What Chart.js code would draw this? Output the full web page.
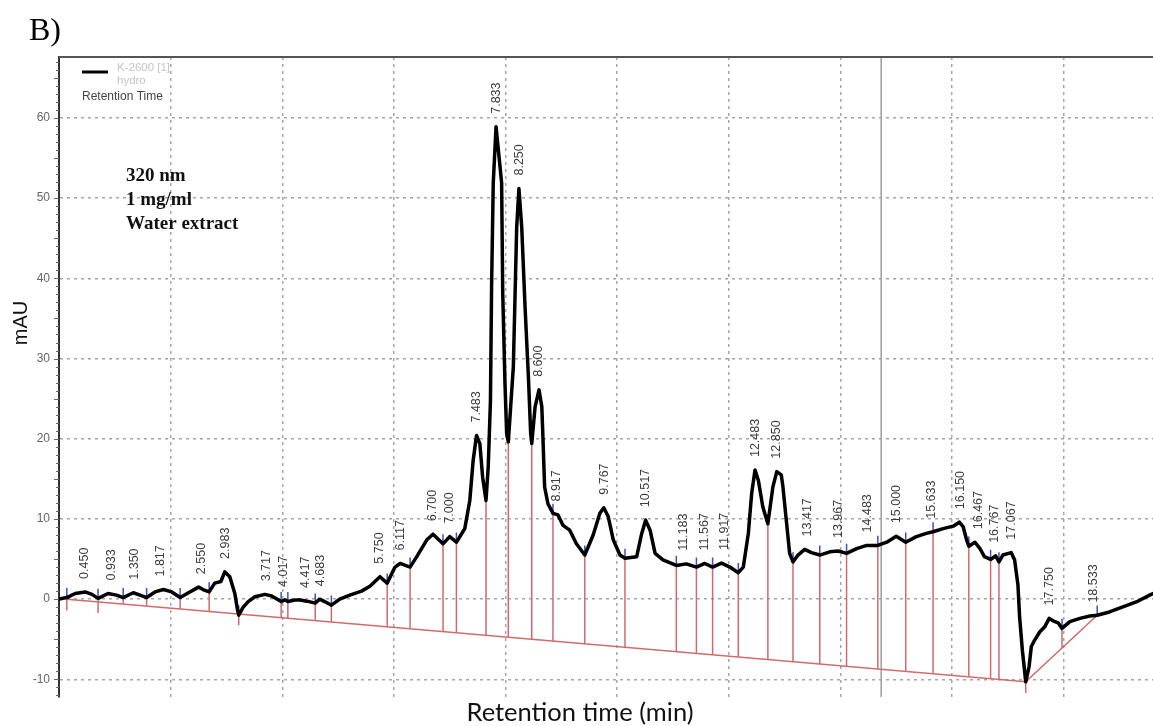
<!DOCTYPE html>
<html>
<head>
<meta charset="utf-8">
<title>HPLC chromatogram – water extract, 320 nm</title>
<script src="https://cdn.jsdelivr.net/npm/chart.js@4.4.1/dist/chart.umd.min.js"></script>
<style>
  html, body { margin: 0; padding: 0; background: #fff; }
  canvas { display: block; }
</style>
</head>
<body>
<canvas id="chart" width="1153" height="726"></canvas>
<script>
// Detector trace: retention time (min) and absorbance (mAU)
const retentionTime = [
  0.00, 0.14, 0.29, 0.47, 0.59, 0.70, 0.88, 1.03, 1.15, 1.33,
  1.45, 1.57, 1.72, 1.87, 2.02, 2.17, 2.32, 2.50, 2.58, 2.69,
  2.79, 2.90, 2.97, 3.06, 3.15, 3.20, 3.22, 3.30, 3.39, 3.51,
  3.69, 3.81, 3.98, 4.05, 4.10, 4.23, 4.32, 4.44, 4.59, 4.67,
  4.76, 4.88, 5.03, 5.21, 5.42, 5.57, 5.75, 5.88, 6.02, 6.11,
  6.29, 6.41, 6.59, 6.70, 6.88, 7.00, 7.12, 7.27, 7.36, 7.42,
  7.48, 7.54, 7.59, 7.65, 7.69, 7.73, 7.75, 7.78, 7.83, 7.93,
  7.95, 7.99, 8.02, 8.05, 8.14, 8.20, 8.24, 8.29, 8.35, 8.41,
  8.45, 8.47, 8.53, 8.60, 8.65, 8.67, 8.70, 8.76, 8.85, 8.94,
  9.03, 9.15, 9.27, 9.42, 9.57, 9.69, 9.76, 9.84, 9.93, 10.05,
  10.14, 10.35, 10.44, 10.51, 10.59, 10.68, 10.82, 11.06, 11.24, 11.42,
  11.57, 11.71, 11.87, 12.02, 12.17, 12.26, 12.35, 12.41, 12.47, 12.53,
  12.61, 12.70, 12.79, 12.86, 12.94, 12.97, 13.03, 13.09, 13.15, 13.24,
  13.36, 13.48, 13.63, 13.81, 13.96, 14.11, 14.29, 14.47, 14.67, 14.83,
  15.00, 15.17, 15.36, 15.54, 15.66, 15.84, 16.02, 16.13, 16.20, 16.26,
  16.30, 16.41, 16.50, 16.58, 16.69, 16.78, 16.84, 16.91, 17.06, 17.12,
  17.18, 17.21, 17.26, 17.32, 17.38, 17.42, 17.48, 17.57, 17.66, 17.74,
  17.81, 17.90, 17.97, 18.11, 18.29, 18.47, 18.60, 18.82, 19.06, 19.30,
  19.54, 19.60
];
const absorbance = [
  0, 0.2, 0.7, 0.9, 0.6, 0.1, 0.7, 0.5, 0.2, 0.8,
  0.5, 0.2, 0.9, 1.2, 0.9, 0.2, 0.8, 1.5, 1.2, 0.9,
  2.0, 2.2, 3.4, 2.8, 0.7, -1.4, -2.0, -1.0, -0.3, 0.3,
  0.6, 0.4, -0.3, -0.1, -0.3, -0.1, -0.1, -0.25, -0.5, 0,
  -0.3, -0.75, 0, 0.5, 1.0, 1.6, 2.8, 2.0, 4.0, 4.45,
  4.0, 5.3, 7.4, 8.1, 6.9, 7.8, 7.1, 8.8, 12.3, 17.3,
  20.4, 19.4, 15.2, 12.3, 16.5, 24.8, 38.9, 51.9, 58.9, 51.9,
  38.1, 26.9, 20.7, 19.6, 29.0, 46.4, 51.2, 46.4, 36.4, 27.7,
  20.7, 19.4, 24.0, 26.1, 24.0, 20.2, 14.0, 11.9, 10.7, 10.5,
  9.2, 8.6, 6.9, 5.5, 8.0, 10.7, 11.4, 10.3, 7.4, 5.5,
  5.1, 5.3, 8.2, 9.85, 8.6, 5.7, 4.9, 4.2, 4.4, 4.0,
  4.45, 4.0, 4.5, 4.0, 3.3, 4.0, 8.2, 13.2, 16.1, 14.8,
  11.5, 9.4, 14.0, 15.9, 15.5, 14.0, 9.85, 5.7, 4.65, 5.5,
  6.2, 5.8, 5.5, 5.9, 6.0, 5.7, 6.3, 6.7, 6.7, 7.1,
  7.85, 7.1, 7.8, 8.2, 8.4, 8.8, 9.1, 9.6, 9.0, 7.4,
  6.6, 7.1, 6.3, 5.3, 4.95, 5.4, 4.65, 5.5, 5.8, 4.9,
  1.8, -2.2, -6.4, -10.3, -8.4, -5.9, -5.1, -4.1, -3.45, -2.4,
  -2.7, -2.95, -3.65, -2.8, -2.4, -2.1, -2.0, -1.6, -0.95, -0.35,
  0.5, 0.7
];

// Integrated peaks (apex retention times, min)
const peakTimes = [
  0.450, 0.933, 1.350, 1.817, 2.550, 2.983, 3.717, 4.017, 4.417, 4.683,
  5.750, 6.117, 6.700, 7.000, 7.483, 7.833, 8.250, 8.600, 8.917, 9.767,
  10.517, 11.183, 11.567, 11.917, 12.483, 12.850, 13.417, 13.967, 14.483, 15.000,
  15.633, 16.150, 16.467, 16.767, 17.067, 17.750, 18.533
];

// Peak start/end markers (min)
const boundaryTimes = [
  0.14, 0.70, 1.15, 1.57, 2.17, 2.69, 3.22, 3.98, 4.10, 4.59,
  4.88, 5.88, 6.29, 6.88, 7.12, 7.65, 8.05, 8.47, 8.85, 9.42,
  10.14, 11.06, 11.42, 11.71, 12.17, 12.70, 13.15, 13.63, 14.11, 14.67,
  15.17, 15.66, 16.30, 16.69, 16.84, 17.32, 17.97, 18.60
];
// Markers where the integration baseline is re-anchored
const baselineResetTimes = [0.14, 0.70, 3.22, 17.32];

// Integration baseline (min, mAU)
const baselineTime = [0.14, 17.32, 18.60];
const baselineValue = [0.0, -10.3, -2.0];

const yTickValues = [-10, 0, 10, 20, 30, 40, 50, 60];
const xGridValues = [2, 4, 6, 8, 10, 12, 14, 16, 18];
const cursorTime = 14.73;

function interp(xs, ys, t) {
  if (t <= xs[0]) return ys[0];
  for (let i = 1; i < xs.length; i++) {
    if (t <= xs[i]) {
      const f = (t - xs[i - 1]) / (xs[i] - xs[i - 1]);
      return ys[i - 1] + f * (ys[i] - ys[i - 1]);
    }
  }
  return ys[ys.length - 1];
}
const traceAt = t => interp(retentionTime, absorbance, t);
const baselineAt = t => interp(baselineTime, baselineValue, t);

const traceData = retentionTime.map((t, i) => ({ x: t, y: absorbance[i] }));

const dropData = [];
boundaryTimes.forEach(t => {
  const bottom = baselineResetTimes.includes(t) ? baselineAt(t) - 1.4 : baselineAt(t);
  dropData.push({ x: t, y: bottom }, { x: t, y: traceAt(t) }, { x: t, y: null });
});

const markerData = [];
boundaryTimes.forEach(t => {
  const v = traceAt(t);
  markerData.push({ x: t, y: v }, { x: t, y: v + 1.2 }, { x: t, y: null });
});

const baselineData = baselineTime.map((t, i) => ({ x: t, y: baselineValue[i] }));

const SANS = '"Liberation Sans", Arial, sans-serif';
const SERIF = '"Liberation Serif", "Times New Roman", serif';

const decor = {
  id: 'decor',
  beforeDraw(chart) {
    const { ctx } = chart;
    ctx.save();
    ctx.fillStyle = '#fff';
    ctx.fillRect(0, 0, chart.width, chart.height);
    ctx.restore();
  },
  beforeDatasetsDraw(chart) {
    const { ctx, chartArea: a, scales: { x } } = chart;
    ctx.save();
    ctx.strokeStyle = '#9c9c9c';
    ctx.lineWidth = 1.5;
    const cx = x.getPixelForValue(cursorTime);
    ctx.beginPath();
    ctx.moveTo(cx, a.top);
    ctx.lineTo(cx, a.bottom);
    ctx.stroke();
    ctx.restore();
  },
  afterDatasetsDraw(chart) {
    const { ctx, scales: { x, y } } = chart;
    ctx.save();
    ctx.font = '12.5px ' + SANS;
    ctx.fillStyle = '#3c3c3c';
    ctx.textAlign = 'left';
    ctx.textBaseline = 'middle';
    peakTimes.forEach(t => {
      let top = traceAt(t);
      retentionTime.forEach((rt, k) => {
        if (Math.abs(rt - t) <= 0.06) top = Math.max(top, absorbance[k]);
      });
      const px = x.getPixelForValue(t);
      const py = y.getPixelForValue(top) - 13;
      ctx.save();
      ctx.translate(px, py);
      ctx.rotate(-Math.PI / 2);
      ctx.fillText(t.toFixed(3), 0, 0);
      ctx.restore();
    });
    ctx.restore();
  },
  afterDraw(chart) {
    const { ctx, chartArea: a, scales: { y } } = chart;
    ctx.save();

    // frame top edge
    ctx.strokeStyle = '#555';
    ctx.lineWidth = 2;
    ctx.beginPath();
    ctx.moveTo(a.left, a.top);
    ctx.lineTo(a.right, a.top);
    ctx.stroke();

    // minor ticks on the absorbance axis
    ctx.strokeStyle = '#666';
    ctx.lineWidth = 1;
    for (let v = -12; v <= 67; v++) {
      const py = Math.round(y.getPixelForValue(v)) + 0.5;
      const len = v % 5 === 0 ? 5 : 3;
      ctx.beginPath();
      ctx.moveTo(a.left - len, py);
      ctx.lineTo(a.left, py);
      ctx.stroke();
    }

    // panel letter
    ctx.fillStyle = '#000';
    ctx.font = '32px ' + SERIF;
    ctx.textAlign = 'left';
    ctx.textBaseline = 'alphabetic';
    ctx.fillText('B)', 29, 40);

    // legend
    ctx.strokeStyle = '#000';
    ctx.lineWidth = 3;
    ctx.beginPath();
    ctx.moveTo(82, 72);
    ctx.lineTo(108, 72);
    ctx.stroke();
    ctx.font = '11.5px ' + SANS;
    ctx.textBaseline = 'middle';
    ctx.fillStyle = '#c4c4c4';
    ctx.fillText('K-2600 [1]', 117, 68);
    ctx.fillText('hydro', 117, 81);
    ctx.fillStyle = '#444';
    ctx.font = '12px ' + SANS;
    ctx.fillText('Retention Time', 82, 97);

    // run conditions
    ctx.fillStyle = '#111';
    ctx.font = 'bold 19px ' + SERIF;
    ctx.textBaseline = 'alphabetic';
    ctx.fillText('320 nm', 126, 181);
    ctx.fillText('1 mg/ml', 126, 205);
    ctx.fillText('Water extract', 126, 229);

    // axis titles
    ctx.fillStyle = '#111';
    ctx.font = '25.5px Lato, ' + SANS;
    ctx.textAlign = 'center';
    ctx.fillText('Retention time (min)', 580, 721);
    ctx.save();
    ctx.translate(27, 323);
    ctx.rotate(-Math.PI / 2);
    ctx.font = '20px ' + SANS;
    ctx.fillText('mAU', 0, 0);
    ctx.restore();

    ctx.restore();
  }
};

new Chart(document.getElementById('chart'), {
  type: 'line',
  data: {
    datasets: [
      {
        label: 'K-2600 [1] hydro',
        data: traceData,
        borderColor: '#000',
        borderWidth: 3.5,
        pointRadius: 0,
        tension: 0,
        borderJoinStyle: 'round',
        borderCapStyle: 'round',
        order: 0
      },
      {
        label: 'peak markers',
        data: markerData,
        borderColor: '#4150c0',
        borderWidth: 1.5,
        pointRadius: 0,
        spanGaps: false,
        order: 1
      },
      {
        label: 'drop lines',
        data: dropData,
        borderColor: '#d16a6a',
        borderWidth: 1.5,
        pointRadius: 0,
        spanGaps: false,
        order: 2
      },
      {
        label: 'baseline',
        data: baselineData,
        borderColor: '#d16a6a',
        borderWidth: 1.5,
        pointRadius: 0,
        tension: 0,
        order: 3
      }
    ]
  },
  options: {
    responsive: false,
    animation: false,
    devicePixelRatio: 1,
    layout: { padding: { top: 57, right: 0, bottom: 0, left: 0 } },
    plugins: { legend: { display: false }, tooltip: { enabled: false } },
    scales: {
      x: {
        type: 'linear',
        min: 0,
        max: 19.6,
        afterBuildTicks(scale) { scale.ticks = xGridValues.map(v => ({ value: v })); },
        afterFit(scale) { scale.height = 29; },
        ticks: { display: false },
        grid: { color: '#a6a6a6', lineWidth: 1.5, drawTicks: false },
        border: { display: false, dash: [3, 4] }
      },
      y: {
        type: 'linear',
        min: -12.2,
        max: 67.6,
        afterBuildTicks(scale) { scale.ticks = yTickValues.map(v => ({ value: v })); },
        afterFit(scale) { scale.width = 59; },
        ticks: {
          color: '#666',
          padding: 9,
          font: { size: 12, family: SANS },
          callback: v => String(v)
        },
        grid: { color: '#a6a6a6', lineWidth: 1.5, drawTicks: false },
        border: { display: true, color: '#333', width: 2, dash: [3, 4] }
      }
    }
  },
  plugins: [decor]
});
</script>
</body>
</html>
